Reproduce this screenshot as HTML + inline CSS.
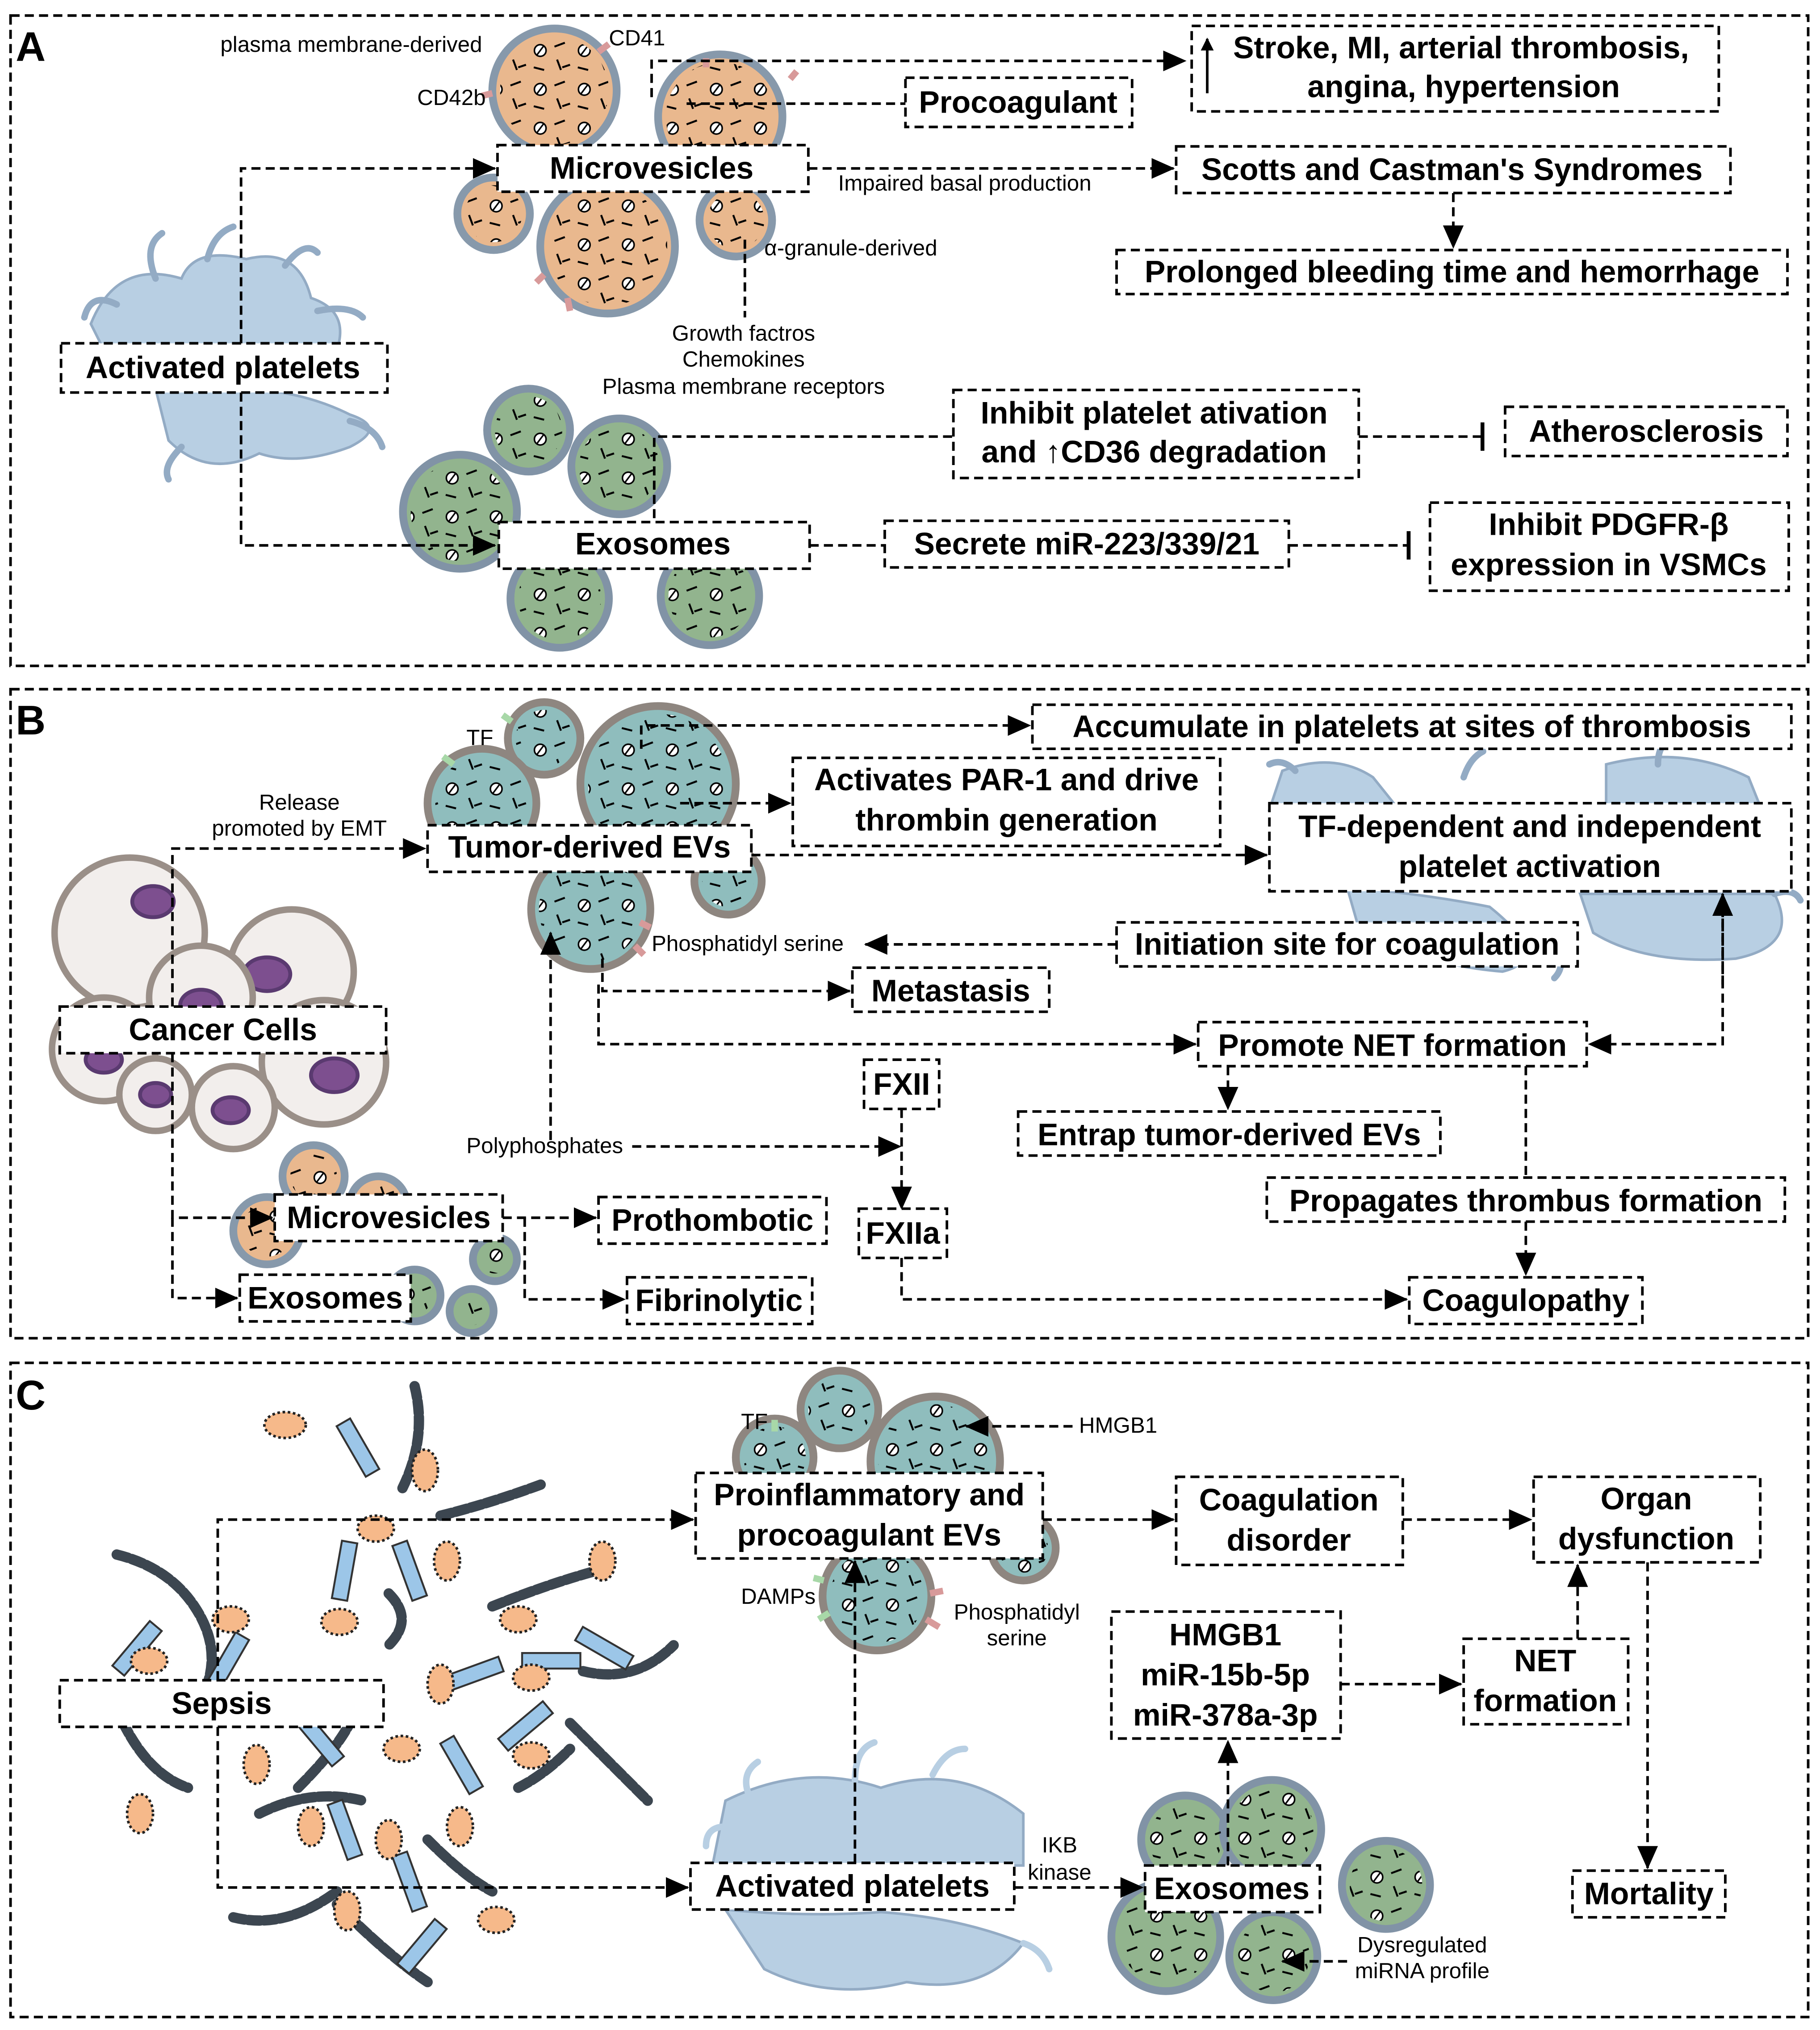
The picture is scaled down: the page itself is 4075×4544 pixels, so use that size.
<!DOCTYPE html>
<html><head><meta charset="utf-8"><style>
html,body{margin:0;padding:0;background:#fff}
svg{display:block}
text{font-family:"Liberation Sans",Arial,sans-serif;fill:#000}
.b{font-weight:bold;font-size:24px;text-anchor:middle}
.s{font-size:17px}
.bx{fill:#fff;stroke:#000;stroke-width:2;stroke-dasharray:7 4}
.ln{fill:none;stroke:#000;stroke-width:2;stroke-dasharray:7 4}
.pan{fill:none;stroke:#000;stroke-width:2;stroke-dasharray:7 4}
.or{fill:#e9b88e;stroke:#8799ab;stroke-width:6}
.gr{fill:#92b48e;stroke:#8193a6;stroke-width:6}
.te{fill:#8fbdbd;stroke:#8e8680;stroke-width:6}
.pl{fill:#b8cfe3;stroke:#93abc4;stroke-width:2}
.cc{fill:#f2eeec;stroke:#9a8f88;stroke-width:5}
.nu{fill:#7d4f8f;stroke:#5a3a70;stroke-width:3}
.rod{fill:#9cc6e8;stroke:#333;stroke-width:1.5}
.bac{fill:#f6b98a;stroke:#222;stroke-width:2;stroke-dasharray:2 2}
.ch{fill:none;stroke:#3c4650;stroke-width:8;stroke-dasharray:9 3;stroke-linecap:round}
.ch2{fill:none;stroke:#6d7a86;stroke-width:3;stroke-dasharray:6 6;stroke-linecap:round}
</style></head><body>
<svg width="4075" height="4544" viewBox="0 0 1405 1567" xmlns="http://www.w3.org/2000/svg">
<defs>
<marker id="ar" markerWidth="10" markerHeight="10" refX="9" refY="5" orient="auto" markerUnits="userSpaceOnUse" viewBox="0 0 10 10"><path d="M0,0 L10,5 L0,10 z" fill="#000"/></marker>
<marker id="a2" markerWidth="18" markerHeight="18" refX="17" refY="9" orient="auto" markerUnits="userSpaceOnUse" viewBox="0 0 18 18"><path d="M0,1 L18,9 L0,17 z" fill="#000"/></marker>
<marker id="bar" markerWidth="4" markerHeight="22" refX="2" refY="11" orient="auto" markerUnits="userSpaceOnUse"><rect x="0" y="0" width="3" height="22" fill="#000"/></marker>
<pattern id="tx" width="34" height="30" patternUnits="userSpaceOnUse">
<circle cx="9" cy="9" r="4.5" fill="#fff" stroke="#000" stroke-width="1.2"/><line x1="6" y1="13" x2="12" y2="5" stroke="#000" stroke-width="1.2"/>
<path d="M20,6 l8,-3 M22,16 l3,8 M4,22 l8,2 M26,22 l6,-2" stroke="#000" stroke-width="1.5" fill="none"/>
</pattern>
</defs>
<rect width="1405" height="1567" fill="#fff"/>
<rect class="pan" x="8" y="12" width="1388" height="502"/>
<rect class="pan" x="8" y="532" width="1388" height="501"/>
<rect class="pan" x="8" y="1052" width="1388" height="505"/>
<text x="12" y="47" style="font-weight:bold;font-size:32px">A</text>
<text x="12" y="567" style="font-weight:bold;font-size:32px">B</text>
<text x="12" y="1088" style="font-weight:bold;font-size:32px">C</text>

<!-- Panel A graphics -->
<g class="pl">
<path d="M70,250 Q90,200 140,215 Q150,190 190,200 Q230,190 240,230 Q270,240 260,270 L80,270 Z"/>
<path d="M120,300 Q150,300 180,300 Q230,300 270,320 Q300,330 270,345 Q230,360 200,350 Q160,370 130,340 Z"/>
</g>
<g stroke="#93abc4" stroke-width="5" fill="none" stroke-linecap="round">
<path d="M90,235 q-20,-10 -25,10"/><path d="M120,215 q-10,-25 5,-35"/><path d="M160,200 q5,-20 20,-25"/><path d="M220,205 q15,-20 25,-10"/><path d="M245,240 q25,-5 35,5"/><path d="M270,325 q20,5 25,20"/><path d="M140,345 q-15,15 -10,25"/>
</g>
<g id="va">
<circle class="or" cx="428" cy="70" r="48"/>
<circle class="or" cx="556" cy="90" r="48"/>
<circle class="or" cx="381" cy="165" r="28"/>
<circle class="or" cx="469" cy="190" r="52"/>
<circle class="or" cx="568" cy="170" r="28"/>
<circle class="gr" cx="408" cy="332" r="32"/>
<circle class="gr" cx="478" cy="360" r="37"/>
<circle class="gr" cx="355" cy="395" r="44"/>
<circle class="gr" cx="432" cy="462" r="38"/>
<circle class="gr" cx="548" cy="460" r="38"/>
</g>
<g fill="url(#tx)">
<circle cx="428" cy="70" r="42"/><circle cx="556" cy="90" r="42"/><circle cx="381" cy="165" r="22"/><circle cx="469" cy="190" r="46"/><circle cx="568" cy="170" r="22"/>
<circle cx="408" cy="332" r="26"/><circle cx="478" cy="360" r="31"/><circle cx="355" cy="395" r="38"/><circle cx="432" cy="462" r="32"/><circle cx="548" cy="460" r="32"/>
</g>
<g stroke="#d89a9a" stroke-width="5"><line x1="462" y1="40" x2="470" y2="34"/><line x1="380" y1="72" x2="372" y2="74"/><line x1="420" y1="212" x2="414" y2="218"/><line x1="438" y1="230" x2="440" y2="240"/><line x1="545" y1="45" x2="545" y2="52"/><line x1="615" y1="55" x2="610" y2="61"/></g>
<text class="s" x="170" y="40">plasma membrane-derived</text>
<text class="s" x="470" y="35">CD41</text>
<text class="s" x="322" y="81">CD42b</text>
<text class="s" x="647" y="147">Impaired basal production</text>
<text class="s" x="590" y="197">α-granule-derived</text>
<text class="s" x="574" y="263" text-anchor="middle">Growth factros</text>
<text class="s" x="574" y="283" text-anchor="middle">Chemokines</text>
<text class="s" x="574" y="304" text-anchor="middle">Plasma membrane receptors</text>

<path class="ln" d="M186,265 V130 H382" marker-end="url(#a2)"/>
<path class="ln" d="M186,303 V421 H382" marker-end="url(#a2)"/>
<path class="ln" d="M503,75 V47 H915" marker-end="url(#a2)"/>
<path class="ln" d="M530,80 H699"/>
<path class="ln" d="M624,130 H906" marker-end="url(#a2)"/>
<path class="ln" d="M1122,149 V191" marker-end="url(#a2)"/>
<path class="ln" d="M575,185 V245"/>
<path class="ln" d="M505,400 V337 H736"/>
<path class="ln" d="M1049,337 H1145" marker-end="url(#bar)"/>
<path class="ln" d="M625,421 H683"/>
<path class="ln" d="M995,421 H1088" marker-end="url(#bar)"/>

<rect class="bx" x="920" y="20" width="407" height="66"/><text class="b" x="1128" y="45">Stroke, MI, arterial thrombosis,</text><text class="b" x="1130" y="75">angina, hypertension</text>
<path d="M932,72 V30" stroke="#000" stroke-width="2" marker-end="url(#ar)"/>
<rect class="bx" x="699" y="60" width="175" height="38"/><text class="b" x="786" y="87">Procoagulant</text>
<rect class="bx" x="384" y="112" width="240" height="36"/><text class="b" x="503" y="138">Microvesicles</text>
<rect class="bx" x="908" y="113" width="428" height="36"/><text class="b" x="1121" y="139">Scotts and Castman's Syndromes</text>
<rect class="bx" x="862" y="193" width="518" height="34"/><text class="b" x="1121" y="218">Prolonged bleeding time and hemorrhage</text>
<rect class="bx" x="47" y="265" width="252" height="38"/><text class="b" x="172" y="292">Activated platelets</text>
<rect class="bx" x="736" y="301" width="313" height="68"/><text class="b" x="891" y="327">Inhibit platelet ativation</text><text class="b" x="891" y="357">and ↑CD36 degradation</text>
<rect class="bx" x="1162" y="314" width="218" height="38"/><text class="b" x="1271" y="341">Atherosclerosis</text>
<rect class="bx" x="385" y="403" width="240" height="36"/><text class="b" x="504" y="428">Exosomes</text>
<rect class="bx" x="683" y="402" width="312" height="36"/><text class="b" x="839" y="428">Secrete miR-223/339/21</text>
<rect class="bx" x="1104" y="388" width="277" height="68"/><text class="b" x="1242" y="413">Inhibit PDGFR-β</text><text class="b" x="1242" y="444">expression in VSMCs</text>

<!-- Panel B graphics -->
<g class="pl">
<path d="M990,595 Q1030,580 1060,600 L1080,625 L980,625 Z"/>
<path d="M1240,590 Q1300,575 1350,600 L1360,625 L1240,625 Z"/>
<path d="M1040,685 Q1100,690 1150,700 Q1200,740 1160,750 Q1100,745 1050,720 Z"/>
<path d="M1220,690 Q1290,690 1370,690 Q1390,730 1340,740 Q1270,745 1230,720 Z"/>
</g>
<g stroke="#93abc4" stroke-width="5" fill="none" stroke-linecap="round">
<path d="M1000,595 q-10,-10 -20,-5"/><path d="M1130,600 q5,-15 15,-20"/><path d="M1280,590 q0,-15 10,-20"/><path d="M1370,690 q15,-5 20,5"/><path d="M1200,730 q10,15 0,25"/>
</g>
<circle class="cc" cx="100" cy="720" r="58"/><ellipse class="nu" cx="118" cy="696" rx="16" ry="12"/>
<circle class="cc" cx="225" cy="750" r="48"/><ellipse class="nu" cx="206" cy="752" rx="18" ry="13"/>
<circle class="cc" cx="155" cy="770" r="40"/><ellipse class="nu" cx="155" cy="776" rx="16" ry="12"/>
<circle class="cc" cx="250" cy="820" r="48"/><ellipse class="nu" cx="258" cy="830" rx="18" ry="13"/>
<circle class="cc" cx="80" cy="810" r="40"/><ellipse class="nu" cx="80" cy="818" rx="14" ry="10"/>
<circle class="cc" cx="120" cy="845" r="28"/><ellipse class="nu" cx="120" cy="845" rx="12" ry="9"/>
<circle class="cc" cx="180" cy="855" r="32"/><ellipse class="nu" cx="178" cy="857" rx="14" ry="10"/>
<circle class="te" cx="420" cy="570" r="28"/>
<circle class="te" cx="372" cy="620" r="42"/>
<circle class="te" cx="508" cy="605" r="60"/>
<circle class="te" cx="562" cy="680" r="26"/>
<circle class="te" cx="456" cy="702" r="46"/>
<circle class="or" cx="242" cy="908" r="24"/><circle class="or" cx="292" cy="930" r="22"/><circle class="or" cx="206" cy="950" r="26"/>
<circle class="gr" cx="382" cy="972" r="17"/><circle class="gr" cx="320" cy="1000" r="20"/><circle class="gr" cx="364" cy="1012" r="17"/>
<g fill="url(#tx)">
<circle cx="420" cy="570" r="22"/><circle cx="372" cy="620" r="36"/><circle cx="508" cy="605" r="54"/><circle cx="562" cy="680" r="20"/><circle cx="456" cy="702" r="40"/>
<circle cx="242" cy="908" r="18"/><circle cx="292" cy="930" r="16"/><circle cx="206" cy="950" r="20"/>
<circle cx="382" cy="972" r="11"/><circle cx="320" cy="1000" r="14"/><circle cx="364" cy="1012" r="11"/>
</g>
<g stroke="#a8d8a8" stroke-width="5"><line x1="350" y1="590" x2="342" y2="584"/><line x1="395" y1="557" x2="388" y2="552"/></g>
<g stroke="#d89a9a" stroke-width="5"><line x1="490" y1="730" x2="497" y2="737"/><line x1="494" y1="712" x2="502" y2="716"/></g>
<text class="s" x="360" y="575">TF</text>
<text class="s" x="231" y="625" text-anchor="middle">Release</text>
<text class="s" x="231" y="645" text-anchor="middle">promoted by EMT</text>
<text class="s" x="503" y="734">Phosphatidyl serine</text>
<text class="s" x="360" y="890">Polyphosphates</text>

<path class="ln" d="M133,777 V655 H328" marker-end="url(#a2)"/>
<path class="ln" d="M133,813 V940 H210" marker-end="url(#a2)"/>
<path class="ln" d="M133,940 V1002 H183" marker-end="url(#a2)"/>
<path class="ln" d="M495,578 V560 H795" marker-end="url(#a2)"/>
<path class="ln" d="M525,620 H610" marker-end="url(#a2)"/>
<path class="ln" d="M580,660 H978" marker-end="url(#a2)"/>
<path class="ln" d="M862,729 H668" marker-end="url(#a2)"/>
<path class="ln" d="M465,740 V765 H656" marker-end="url(#a2)"/>
<path class="ln" d="M462,760 V806 H923" marker-end="url(#a2)"/>
<path class="ln" d="M1330,690 V806 H1227" marker-end="url(#a2)"/>
<path class="ln" d="M1330,760 V690" marker-end="url(#a2)"/>
<path class="ln" d="M948,823 V856" marker-end="url(#a2)"/>
<path class="ln" d="M1178,823 V909"/>
<path class="ln" d="M1178,943 V984" marker-end="url(#a2)"/>
<path class="ln" d="M425,880 V720" marker-end="url(#a2)"/>
<path class="ln" d="M488,885 H695" marker-end="url(#a2)"/>
<path class="ln" d="M696,856 V933" marker-end="url(#a2)"/>
<path class="ln" d="M696,971 V1003 H1086" marker-end="url(#a2)"/>
<path class="ln" d="M388,940 H460" marker-end="url(#a2)"/>
<path class="ln" d="M405,940 V1003 H482" marker-end="url(#a2)"/>

<rect class="bx" x="797" y="544" width="586" height="34"/><text class="b" x="1090" y="569">Accumulate in platelets at sites of thrombosis</text>
<rect class="bx" x="612" y="585" width="330" height="68"/><text class="b" x="777" y="610">Activates PAR-1 and drive</text><text class="b" x="777" y="641">thrombin generation</text>
<rect class="bx" x="980" y="620" width="403" height="68"/><text class="b" x="1181" y="646">TF-dependent and independent</text><text class="b" x="1181" y="677">platelet activation</text>
<rect class="bx" x="330" y="637" width="250" height="36"/><text class="b" x="455" y="662">Tumor-derived EVs</text>
<rect class="bx" x="862" y="712" width="356" height="34"/><text class="b" x="1040" y="737">Initiation site for coagulation</text>
<rect class="bx" x="658" y="747" width="152" height="34"/><text class="b" x="734" y="773">Metastasis</text>
<rect class="bx" x="46" y="777" width="252" height="36"/><text class="b" x="172" y="803">Cancer Cells</text>
<rect class="bx" x="925" y="789" width="300" height="34"/><text class="b" x="1075" y="815">Promote NET formation</text>
<rect class="bx" x="667" y="818" width="58" height="38"/><text class="b" x="696" y="845">FXII</text>
<rect class="bx" x="786" y="858" width="326" height="34"/><text class="b" x="949" y="884">Entrap tumor-derived EVs</text>
<rect class="bx" x="978" y="909" width="400" height="34"/><text class="b" x="1178" y="935">Propagates thrombus formation</text>
<rect class="bx" x="212" y="922" width="176" height="36"/><text class="b" x="300" y="948">Microvesicles</text>
<rect class="bx" x="462" y="924" width="176" height="36"/><text class="b" x="550" y="950">Prothombotic</text>
<rect class="bx" x="663" y="933" width="68" height="38"/><text class="b" x="697" y="960">FXIIa</text>
<rect class="bx" x="185" y="984" width="132" height="36"/><text class="b" x="251" y="1010">Exosomes</text>
<rect class="bx" x="484" y="986" width="143" height="36"/><text class="b" x="555" y="1012">Fibrinolytic</text>
<rect class="bx" x="1088" y="986" width="180" height="36"/><text class="b" x="1178" y="1012">Coagulopathy</text>

<!-- Panel C graphics -->
<g>
<path class="ch" d="M90,1200 q40,10 60,40 q20,30 10,60"/>
<path class="ch" d="M320,1070 q10,40 -10,80"/>
<path class="ch" d="M340,1170 q40,-10 80,-25"/>
<path class="ch" d="M380,1240 q50,-20 90,-30"/>
<path class="ch" d="M450,1290 q40,10 70,-20"/>
<path class="ch" d="M440,1330 q30,30 60,60"/>
<path class="ch" d="M200,1400 q40,-20 80,-10"/>
<path class="ch" d="M180,1480 q40,10 80,-20"/>
<path class="ch" d="M260,1470 q40,40 70,60"/>
<path class="ch" d="M330,1420 q30,30 50,40"/>
<path class="ch" d="M230,1380 q30,-30 40,-50"/>
<path class="ch" d="M400,1380 q20,-10 40,-30"/>
<path class="ch" d="M300,1230 q20,20 0,40"/>
<path class="ch" d="M95,1330 q20,40 50,50"/>
</g>
<g class="rod">
<rect x="270" y="1095" width="12" height="45" transform="rotate(-30 276 1117)"/>
<rect x="260" y="1190" width="12" height="45" transform="rotate(10 266 1212)"/>
<rect x="310" y="1190" width="12" height="45" transform="rotate(-20 316 1212)"/>
<rect x="100" y="1250" width="12" height="45" transform="rotate(40 106 1272)"/>
<rect x="170" y="1260" width="12" height="45" transform="rotate(30 176 1282)"/>
<rect x="360" y="1270" width="12" height="45" transform="rotate(70 366 1292)"/>
<rect x="420" y="1260" width="12" height="45" transform="rotate(90 426 1282)"/>
<rect x="460" y="1250" width="12" height="45" transform="rotate(-60 466 1272)"/>
<rect x="240" y="1320" width="12" height="45" transform="rotate(-40 246 1342)"/>
<rect x="350" y="1340" width="12" height="45" transform="rotate(-30 356 1362)"/>
<rect x="260" y="1390" width="12" height="45" transform="rotate(-20 266 1412)"/>
<rect x="310" y="1430" width="12" height="45" transform="rotate(-20 316 1452)"/>
<rect x="320" y="1480" width="12" height="45" transform="rotate(40 326 1502)"/>
<rect x="400" y="1310" width="12" height="45" transform="rotate(50 406 1332)"/>
</g>
<g class="bac">
<ellipse cx="220" cy="1100" rx="16" ry="10"/><ellipse cx="328" cy="1135" rx="10" ry="16"/><ellipse cx="290" cy="1180" rx="14" ry="10"/>
<ellipse cx="345" cy="1205" rx="10" ry="15"/><ellipse cx="178" cy="1250" rx="14" ry="10"/><ellipse cx="262" cy="1252" rx="14" ry="10"/>
<ellipse cx="115" cy="1282" rx="14" ry="10"/><ellipse cx="340" cy="1300" rx="10" ry="15"/><ellipse cx="400" cy="1250" rx="14" ry="10"/>
<ellipse cx="410" cy="1295" rx="14" ry="10"/><ellipse cx="465" cy="1205" rx="10" ry="15"/><ellipse cx="108" cy="1400" rx="10" ry="15"/>
<ellipse cx="240" cy="1410" rx="10" ry="15"/><ellipse cx="310" cy="1350" rx="14" ry="10"/><ellipse cx="300" cy="1420" rx="10" ry="15"/>
<ellipse cx="410" cy="1355" rx="14" ry="10"/><ellipse cx="268" cy="1475" rx="10" ry="15"/><ellipse cx="383" cy="1482" rx="14" ry="10"/>
<ellipse cx="355" cy="1410" rx="10" ry="15"/><ellipse cx="198" cy="1362" rx="10" ry="15"/>
</g>
<g class="pl">
<path d="M560,1390 Q620,1360 680,1380 Q740,1360 790,1400 L790,1440 L550,1440 Z"/>
<path d="M560,1474 Q620,1480 680,1476 Q740,1480 790,1500 Q760,1540 700,1530 Q640,1545 590,1520 Z"/>
</g>
<g stroke="#b8cfe3" stroke-width="5" fill="none" stroke-linecap="round">
<path d="M580,1390 q-10,-20 5,-30"/><path d="M660,1375 q0,-25 15,-30"/><path d="M720,1370 q10,-20 25,-20"/><path d="M560,1410 q-15,0 -15,15"/><path d="M790,1500 q15,5 20,20"/>
</g>
<circle class="te" cx="648" cy="1088" r="30"/>
<circle class="te" cx="722" cy="1128" r="50"/>
<circle class="te" cx="598" cy="1125" r="30"/>
<circle class="te" cx="790" cy="1195" r="25"/>
<circle class="te" cx="677" cy="1232" r="42"/>
<circle class="gr" cx="915" cy="1420" r="34"/><circle class="gr" cx="982" cy="1412" r="38"/>
<circle class="gr" cx="1070" cy="1455" r="34"/><circle class="gr" cx="900" cy="1495" r="42"/><circle class="gr" cx="983" cy="1510" r="34"/>
<g fill="url(#tx)">
<circle cx="648" cy="1088" r="24"/><circle cx="722" cy="1128" r="44"/><circle cx="598" cy="1125" r="24"/><circle cx="790" cy="1195" r="19"/><circle cx="677" cy="1232" r="36"/>
<circle cx="915" cy="1420" r="28"/><circle cx="982" cy="1412" r="32"/><circle cx="1070" cy="1455" r="28"/><circle cx="900" cy="1495" r="36"/><circle cx="983" cy="1510" r="28"/>
</g>
<g stroke="#a8d8a8" stroke-width="5"><line x1="636" y1="1220" x2="628" y2="1218"/><line x1="640" y1="1245" x2="632" y2="1250"/><line x1="598" y1="1105" x2="598" y2="1096"/></g>
<g stroke="#d89a9a" stroke-width="5"><line x1="718" y1="1230" x2="728" y2="1228"/><line x1="715" y1="1250" x2="725" y2="1256"/></g>
<text class="s" x="572" y="1103">TF</text>
<text class="s" x="833" y="1106">HMGB1</text>
<text class="s" x="572" y="1238">DAMPs</text>
<text class="s" x="785" y="1250" text-anchor="middle">Phosphatidyl</text>
<text class="s" x="785" y="1270" text-anchor="middle">serine</text>
<text class="s" x="818" y="1430" text-anchor="middle">IKB</text>
<text class="s" x="818" y="1451" text-anchor="middle">kinase</text>
<text class="s" x="1098" y="1507" text-anchor="middle">Dysregulated</text>
<text class="s" x="1098" y="1527" text-anchor="middle">miRNA profile</text>

<path class="ln" d="M168,1297 V1173 H535" marker-end="url(#a2)"/>
<path class="ln" d="M168,1333 V1457 H531" marker-end="url(#a2)"/>
<path class="ln" d="M660,1438 V1205" marker-end="url(#a2)"/>
<path class="ln" d="M828,1101 H746" marker-end="url(#a2)"/>
<path class="ln" d="M805,1173 H906" marker-end="url(#a2)"/>
<path class="ln" d="M1083,1173 H1182" marker-end="url(#a2)"/>
<path class="ln" d="M783,1457 H882" marker-end="url(#a2)"/>
<path class="ln" d="M948,1440 V1344" marker-end="url(#a2)"/>
<path class="ln" d="M1035,1300 H1128" marker-end="url(#a2)"/>
<path class="ln" d="M1218,1265 V1208" marker-end="url(#a2)"/>
<path class="ln" d="M1272,1206 V1442" marker-end="url(#a2)"/>
<path class="ln" d="M1040,1514 H990" marker-end="url(#a2)"/>

<rect class="bx" x="537" y="1137" width="268" height="66"/><text class="b" x="671" y="1162">Proinflammatory and</text><text class="b" x="671" y="1193">procoagulant EVs</text>
<rect class="bx" x="908" y="1140" width="175" height="68"/><text class="b" x="995" y="1166">Coagulation</text><text class="b" x="995" y="1197">disorder</text>
<rect class="bx" x="1184" y="1140" width="175" height="66"/><text class="b" x="1271" y="1165">Organ</text><text class="b" x="1271" y="1196">dysfunction</text>
<rect class="bx" x="858" y="1244" width="177" height="98"/><text class="b" x="946" y="1270">HMGB1</text><text class="b" x="946" y="1301">miR-15b-5p</text><text class="b" x="946" y="1332">miR-378a-3p</text>
<rect class="bx" x="1130" y="1265" width="127" height="66"/><text class="b" x="1193" y="1290">NET</text><text class="b" x="1193" y="1321">formation</text>
<rect class="bx" x="46" y="1297" width="250" height="36"/><text class="b" x="171" y="1323">Sepsis</text>
<rect class="bx" x="533" y="1438" width="250" height="36"/><text class="b" x="658" y="1464">Activated platelets</text>
<rect class="bx" x="884" y="1440" width="135" height="36"/><text class="b" x="951" y="1466">Exosomes</text>
<rect class="bx" x="1214" y="1444" width="118" height="36"/><text class="b" x="1273" y="1470">Mortality</text>
</svg>
</body></html>
